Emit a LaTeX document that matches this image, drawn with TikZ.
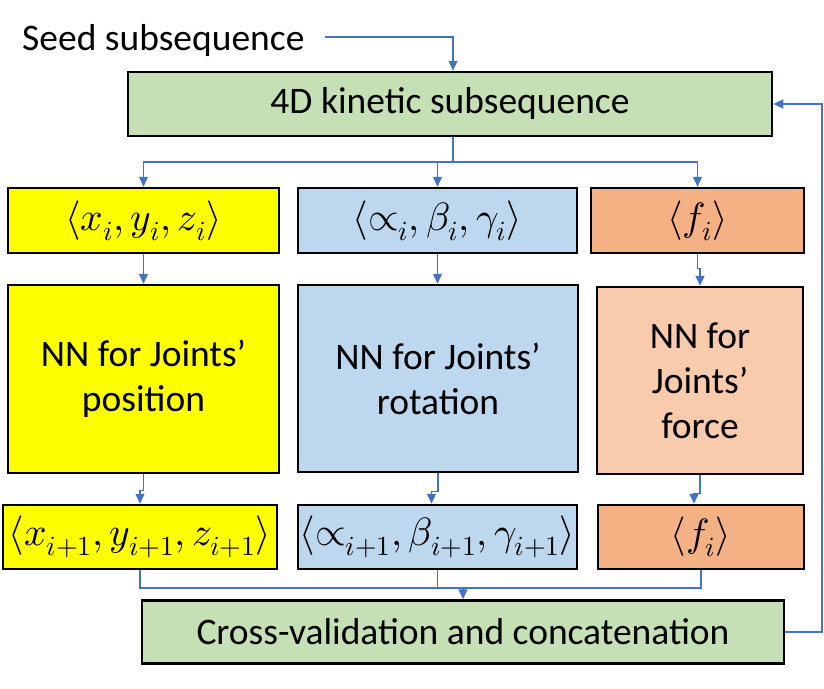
\documentclass[tikz,border=0pt]{standalone}
\usepackage{fontspec}
\usepackage{unicode-math}
\setmainfont{Carlito}
\setmathfont{Latin Modern Math}
\usetikzlibrary{arrows.meta,calc}
\definecolor{grn}{HTML}{C5E0B4}
\definecolor{ylw}{HTML}{FFFF00}
\definecolor{blu}{HTML}{BDD7EE}
\definecolor{org}{HTML}{F4B183}
\definecolor{orgl}{HTML}{F8CBAD}
\definecolor{arrc}{HTML}{4472C4}
\begin{document}
\begin{tikzpicture}[x=1pt,y=-1pt,
  txt/.style={font=\fontsize{37.5}{45}\selectfont},
  box/.style={txt, draw=black, line width=2.5pt, inner sep=0pt, align=center},
  mbox/.style={box, font=\fontsize{39.5}{45}\selectfont},
  conn/.style={draw=arrc, line width=1.3pt},
  arrow/.style={conn, -{Triangle[length=10pt,width=9pt]}}]
\useasboundingbox (0,0) rectangle (824,688);
\fill[white] (0,0) rectangle (824,688);
% nodes
\node[txt, anchor=base west, inner sep=0pt] (seed) at (22,50) {Seed subsequence};
\node[box, fill=grn, minimum width=644pt, minimum height=64pt] (kin) at (450,104) {4D kinetic subsequence};
\node[mbox, fill=ylw, minimum width=271pt, minimum height=65pt] (pa) at (143.5,220.5) {$\langle x_i, y_i, z_i\rangle$};
\node[mbox, fill=blu, minimum width=279pt, minimum height=65pt] (ra) at (437.5,220.5) {$\langle \mathord{\propto}_i, \beta_i, \gamma_i\rangle$};
\node[mbox, fill=org, minimum width=213pt, minimum height=65pt] (fa) at (697.5,220.5) {$\langle f_i\rangle$};
\node[box, fill=ylw, minimum width=271pt, minimum height=188pt] (pn) at (143.5,379) {NN for Joints’\\position};
\node[box, fill=blu, minimum width=280pt, minimum height=187pt] (rn) at (438,378.5) {NN for Joints’\\rotation};
\node[box, fill=orgl, minimum width=206pt, minimum height=187pt] (fn) at (700,380.5) {NN for\\Joints’\\force};
\node[mbox, fill=ylw, minimum width=274pt, minimum height=64pt] (po) at (140,537) {$\langle x_{i+1}, y_{i+1}, z_{i+1}\rangle$};
\node[mbox, fill=blu, minimum width=279pt, minimum height=64pt] (ro) at (437.5,537) {$\langle \mathord{\propto}_{i+1}, \beta_{i+1}, \gamma_{i+1}\rangle$};
\node[mbox, fill=org, minimum width=206pt, minimum height=64pt] (fo) at (701,537) {$\langle f_i\rangle$};
\node[box, fill=grn, minimum width=642pt, minimum height=63pt] (cv) at (463,632) {Cross-validation and concatenation};
% connectors
\coordinate (s0) at (325,37);
\draw[arrow] (s0) -| ($(kin.north)+(3,0)$);
\coordinate (j1) at (453,162);
\draw[conn] ($(kin.south)+(3,0)$) -- (j1);
\draw[arrow] (j1) -| (pa.north);
\draw[arrow] (j1) -| (ra.north);
\draw[arrow] (j1) -| (fa.north);
\draw[arrow] (pa.south) -- (pa.south |- pn.north);
\draw[arrow] (ra.south) -- (ra.south |- rn.north);
\draw[arrow] (fa.south) -- ++(0,14) -| (fn.north);
\draw[arrow] (pn.south) -- ++(0,16) -| (po.north);
\draw[arrow] (rn.south) -- ++(0,18) -| ($(ro.north)+(-6,0)$);
\draw[arrow] (fn.south) -- ++(0,18) -| ($(fo.north)+(-7,0)$);
\coordinate (j2) at (463,588);
\draw[conn] (po.south) |- (j2);
\draw[conn] (ro.south) |- (j2);
\draw[conn] (fo.south) |- (j2);
\draw[arrow] (j2) -- (cv.north);
\coordinate (fb) at (822,632);
\draw[arrow] (cv.east) -- (fb) |- (kin.east);
\end{tikzpicture}
\end{document}
